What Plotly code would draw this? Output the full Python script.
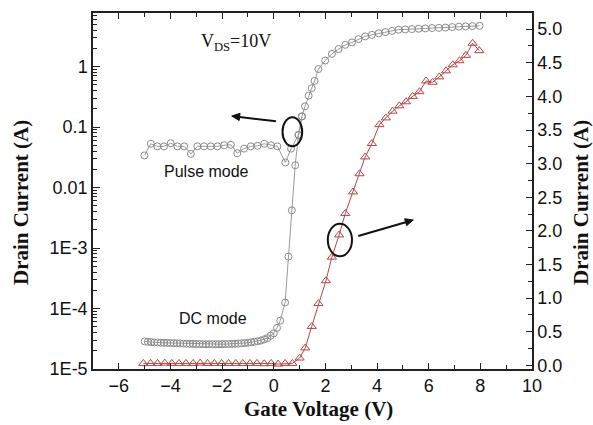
import plotly.graph_objects as go

# ---------------- data ----------------
pulse_v = [-5.01, -4.76, -4.51, -4.25, -3.99, -3.73, -3.47, -3.21, -2.96, -2.70,
           -2.44, -2.18, -1.92, -1.66, -1.41, -1.15, -0.89, -0.63, -0.37, -0.11,
           0.14, 0.45, 0.67, 0.96, 1.09]
pulse_i = [0.034, 0.053, 0.048, 0.048, 0.054, 0.048, 0.048, 0.036, 0.048, 0.048,
           0.048, 0.048, 0.050, 0.051, 0.037, 0.044, 0.048, 0.049, 0.053, 0.050,
           0.048, 0.026, 0.044, 0.074, 0.15]

dc_log_v = [-5.0, -4.875, -4.75, -4.625, -4.5, -4.375, -4.25, -4.125, -4.0, -3.875,
            -3.75, -3.625, -3.5, -3.375, -3.25, -3.125, -3.0, -2.875, -2.75, -2.625,
            -2.5, -2.375, -2.25, -2.125, -2.0, -1.875, -1.75, -1.625, -1.5, -1.375,
            -1.25, -1.125, -1.0, -0.875, -0.75, -0.625, -0.5, -0.375, -0.25, -0.125,
            0.0, 0.125, 0.25, 0.44, 0.57, 0.70, 0.83, 0.96, 1.09, 1.21,
            1.35, 1.47, 1.58, 1.73, 1.99, 2.25, 2.51, 2.77, 3.03, 3.28,
            3.54, 3.80, 4.06, 4.32, 4.58, 4.83, 5.09, 5.35, 5.61, 5.87,
            6.13, 6.39, 6.65, 6.91, 7.17, 7.43, 7.69, 7.97]
dc_log_i = [2.86e-5, 2.82e-5, 2.78e-5, 2.75e-5, 2.74e-5, 2.72e-5, 2.71e-5, 2.70e-5, 2.69e-5, 2.68e-5,
            2.66e-5, 2.65e-5, 2.63e-5, 2.62e-5, 2.61e-5, 2.60e-5, 2.59e-5, 2.58e-5, 2.57e-5, 2.57e-5,
            2.57e-5, 2.57e-5, 2.57e-5, 2.57e-5, 2.58e-5, 2.58e-5, 2.59e-5, 2.60e-5, 2.61e-5, 2.63e-5,
            2.66e-5, 2.69e-5, 2.72e-5, 2.76e-5, 2.82e-5, 2.88e-5, 2.95e-5, 3.09e-5, 3.24e-5, 3.55e-5,
            3.89e-5, 4.79e-5, 6.3e-5, 1.26e-4, 7.2e-4, 4.2e-3, 0.0234, 0.074, 0.15, 0.22,
            0.33, 0.44, 0.58, 0.91, 1.26, 1.62, 1.95, 2.29, 2.51, 2.85,
            3.16, 3.35, 3.55, 3.72, 3.89, 4.07, 4.12, 4.17, 4.22, 4.27,
            4.34, 4.37, 4.42, 4.50, 4.57, 4.62, 4.68, 4.73]

dc_lin_v = [-5.05, -4.77, -4.50, -4.22, -3.95, -3.67, -3.40, -3.12, -2.85, -2.57,
            -2.30, -2.02, -1.75, -1.47, -1.20, -0.92, -0.65, -0.37, -0.10, 0.17,
            0.44, 0.72, 1.00, 1.22, 1.47, 1.73, 2.02, 2.25, 2.53, 2.77,
            3.07, 3.32, 3.54, 3.80, 4.09, 4.34, 4.60, 4.86, 5.12, 5.38,
            5.64, 5.90, 6.15, 6.41, 6.67, 6.93, 7.19, 7.44, 7.70, 7.96]
dc_lin_i = [0.03, 0.03, 0.03, 0.035, 0.03, 0.03, 0.03, 0.03, 0.035, 0.03,
            0.03, 0.03, 0.03, 0.03, 0.03, 0.03, 0.03, 0.025, 0.03, 0.02,
            0.03, 0.03, 0.11, 0.26, 0.58, 0.92, 1.26, 1.61, 1.94, 2.26,
            2.58, 2.85, 3.10, 3.30, 3.58, 3.68, 3.78, 3.86, 3.92, 4.00,
            4.07, 4.23, 4.21, 4.29, 4.38, 4.47, 4.53, 4.61, 4.79, 4.68]

log_tick_vals = [1e-5, 1e-4, 1e-3, 1e-2, 1e-1, 1]
log_tick_text = ["1E-5", "1E-4", "1E-3", "0.01", "0.1", "1"]

# ---------------- figure ----------------
W, H = 593, 425
ML, MR, MT, MB = 93, 61, 13, 56
PW, PH = W - ML - MR, H - MT - MB


def px(xp):
    return (xp - ML) / PW


def py(yp):
    return (MT + PH - yp) / PH


gray = "#8a8a8a"
red = "#b84545"

fig = go.Figure()
fig.add_trace(go.Scatter(x=pulse_v, y=pulse_i, mode="lines+markers",
                         line=dict(color="#9a9a9a", width=1),
                         marker=dict(symbol="circle-open", size=7, color=gray, line=dict(width=1)),
                         name="Pulse mode", yaxis="y"))
fig.add_trace(go.Scatter(x=dc_log_v, y=dc_log_i, mode="lines+markers",
                         line=dict(color="#9a9a9a", width=1),
                         marker=dict(symbol="circle-open", size=7, color=gray, line=dict(width=1)),
                         name="DC mode", yaxis="y"))
fig.add_trace(go.Scatter(x=dc_lin_v, y=dc_lin_i, mode="lines+markers",
                         line=dict(color=red, width=1),
                         marker=dict(symbol="triangle-up-open", size=8, color=red, line=dict(width=1)),
                         name="DC linear", yaxis="y2"))

minor_log = [m * 10.0 ** e for e in range(-5, 1) for m in range(2, 10)]

tickfont = dict(family="Liberation Sans, Arial, sans-serif", size=18, color="#111")
titlefont = dict(family="Liberation Serif, Times New Roman, serif", size=21, color="#111")

fig.update_layout(
    width=W, height=H,
    margin=dict(l=ML, r=MR, t=MT, b=MB),
    paper_bgcolor="white", plot_bgcolor="white",
    showlegend=False,
    xaxis=dict(range=[-7, 10], tickvals=[-6, -4, -2, 0, 2, 4, 6, 8, 10],
               ticks="inside", ticklen=6, tickwidth=1.3, tickcolor="#222",
               minor=dict(tickvals=[-7, -5, -3, -1, 1, 3, 5, 7, 9], ticks="inside", ticklen=4, tickwidth=1.3, tickcolor="#222"),
               showline=True, linecolor="#222", linewidth=1.5, mirror="ticks",
               showgrid=False, zeroline=False, tickfont=tickfont, automargin=False),
    yaxis=dict(type="log", range=[-5, 0.886], tickmode="array",
               tickvals=log_tick_vals, ticktext=log_tick_text,
               ticks="inside", ticklen=7, tickwidth=1.3, tickcolor="#222",
               minor=dict(tickvals=minor_log, ticks="inside", ticklen=4, tickwidth=1, tickcolor="#222"),
               showline=True, linecolor="#222", linewidth=1.5,
               showgrid=False, zeroline=False, tickfont=tickfont, automargin=False),
    yaxis2=dict(range=[-0.053, 5.24], overlaying="y", side="right",
                tickvals=[0, 0.5, 1, 1.5, 2, 2.5, 3, 3.5, 4, 4.5, 5], tickformat=".1f",
                ticks="inside", ticklen=6, tickwidth=1.3, tickcolor="#222",
                minor=dict(tickvals=[0.25, 0.75, 1.25, 1.75, 2.25, 2.75, 3.25, 3.75, 4.25, 4.75, 5.25],
                           ticks="inside", ticklen=4, tickwidth=1.3, tickcolor="#222"),
                showline=True, linecolor="#222", linewidth=1.5,
                showgrid=False, zeroline=False, tickfont=tickfont, automargin=False),
)

ann = []
# axis titles
ann.append(dict(text="<b>Gate Voltage (V)</b>", xref="paper", yref="paper", x=px(318), y=py(409),
                xanchor="center", yanchor="middle", showarrow=False, font=titlefont))
ann.append(dict(text="<b>Drain Current (A)</b>", xref="paper", yref="paper", x=px(21), y=py(203),
                xanchor="center", yanchor="middle", textangle=-90, showarrow=False, font=titlefont))
ann.append(dict(text="<b>Drain Current (A)</b>", xref="paper", yref="paper", x=px(581), y=py(203),
                xanchor="center", yanchor="middle", textangle=-90, showarrow=False, font=titlefont))
# labels
ann.append(dict(text="V<sub>DS</sub>=10V", xref="paper", yref="paper", x=px(199), y=py(42),
                xanchor="left", yanchor="middle", showarrow=False,
                font=dict(family="Liberation Serif, Times New Roman, serif", size=18, color="#111")))
ann.append(dict(text="Pulse mode", xref="paper", yref="paper", x=px(206), y=py(171),
                xanchor="center", yanchor="middle", showarrow=False,
                font=dict(family="Liberation Sans, Arial, sans-serif", size=16, color="#111")))
ann.append(dict(text="DC mode", xref="paper", yref="paper", x=px(213), y=py(318),
                xanchor="center", yanchor="middle", showarrow=False,
                font=dict(family="Liberation Sans, Arial, sans-serif", size=16, color="#111")))
fig.update_layout(annotations=ann)


def arrow(tail, head, hl=8.0, hw=3.6):
    dx, dy = head[0] - tail[0], head[1] - tail[1]
    ln = (dx * dx + dy * dy) ** 0.5
    ux, uy = dx / ln, dy / ln
    bx, by = head[0] - hl * ux, head[1] - hl * uy
    nx, ny = -uy * hw, ux * hw
    fig.add_shape(type="line", xref="paper", yref="paper",
                  x0=px(tail[0]), y0=py(tail[1]), x1=px(bx), y1=py(by),
                  line=dict(color="#111", width=2))
    path = "M {:.5f} {:.5f} L {:.5f} {:.5f} L {:.5f} {:.5f} Z".format(
        px(head[0]), py(head[1]), px(bx + nx), py(by + ny), px(bx - nx), py(by - ny))
    fig.add_shape(type="path", xref="paper", yref="paper", path=path,
                  fillcolor="#111", line=dict(color="#111", width=1))


arrow((276, 121.3), (231.7, 116))
arrow((358.3, 236), (413.3, 220))

# ellipses
fig.add_shape(type="circle", xref="paper", yref="paper",
              x0=px(282.5), x1=px(302.2), y0=py(146.2), y1=py(117.3),
              line=dict(color="#111", width=2))
fig.add_shape(type="circle", xref="paper", yref="paper",
              x0=px(327.8), x1=px(352), y0=py(256.3), y1=py(223.7),
              line=dict(color="#111", width=2))

fig.write_html("out.html", config={"displayModeBar": False},
               post_script="document.body.style.margin='0';document.body.style.overflow='hidden';")
